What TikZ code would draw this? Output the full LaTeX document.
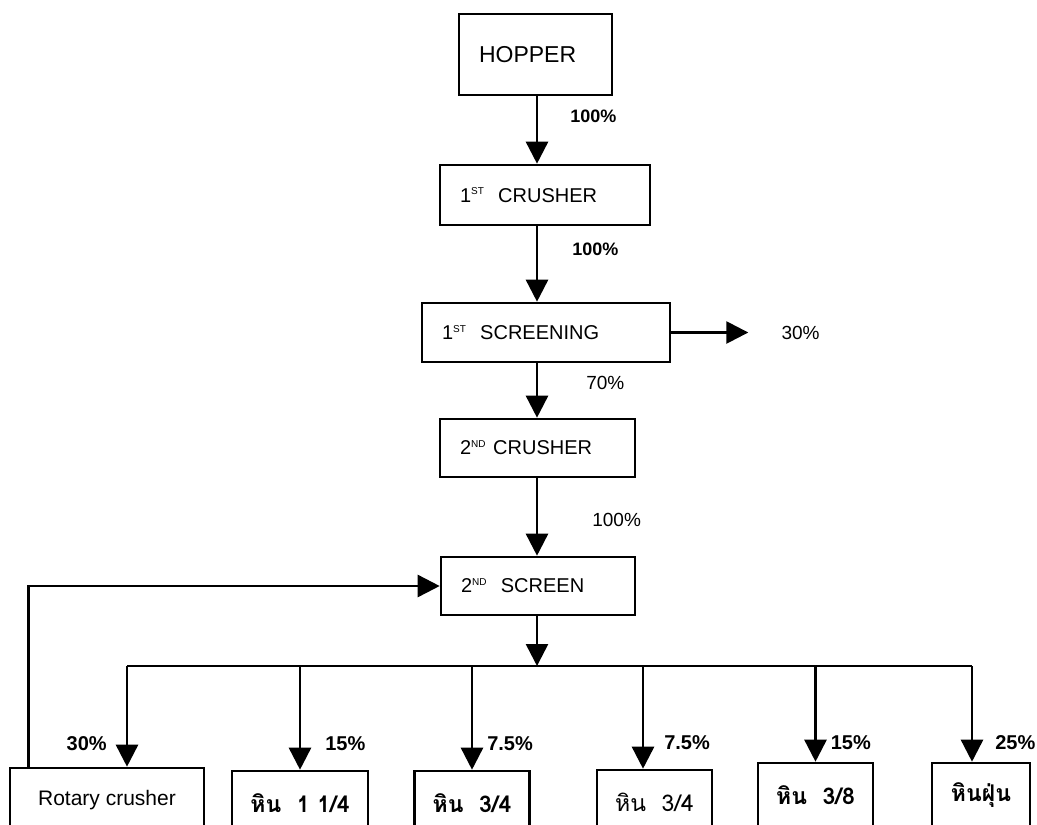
\documentclass[tikz,border=0pt]{standalone}
\usepackage{fontspec}
\setmainfont{Liberation Sans}
\newfontfamily\thaifont[Script=Thai]{Loma}
\usepackage{tikz}
\usetikzlibrary{positioning,arrows.meta}
\tikzset{
  unit/.style={rectangle, draw, line width=1.3pt, inner xsep=10pt, inner ysep=0pt,
               align=left, font=\fontsize{10}{12}\selectfont},
  prod/.style={rectangle, draw, line width=1.3pt, inner sep=0pt, minimum height=32pt,
               align=center, font=\fontsize{10.5}{12}\selectfont},
  flow/.style={-{Triangle[length=11pt,width=11pt]}, line width=1.3pt},
  bus/.style={line width=1.3pt},
  pct/.style={font=\bfseries\fontsize{10}{12}\selectfont, inner sep=1pt},
  pctm/.style={pct, font=\bfseries\fontsize{9}{11}\selectfont},
  pctl/.style={pct, font=\fontsize{9.5}{11}\selectfont},
}
\newcommand{\ordn}[2]{#1\textsuperscript{\tiny #2}}
\newcommand{\thaib}{\thaifont\fontsize{11.5}{13}\selectfont}

\begin{document}
\begin{tikzpicture}[x=0.5pt,y=-0.5pt]
  \useasboundingbox (0,0) rectangle (1037,824);

  % ===== main line ======================================================
  \node[unit, text width=56.5pt, minimum height=40.5pt,
        font=\fontsize{11.5}{14}\selectfont] (hop) at (535.5,54.5) {HOPPER};
  \node[unit, text width=85pt, minimum height=30pt] (cr1) at (545,195)
       {\ordn{1}{ST}\ \ CRUSHER};
  \node[unit, text width=104pt, minimum height=29.5pt] (scr1) at (546,332.5)
       {\ordn{1}{ST}\ \ SCREENING};
  \node[unit, text width=77.5pt, minimum height=29pt] (cr2) at (537.5,448)
       {\ordn{2}{ND} CRUSHER};
  \node[unit, text width=77pt, minimum height=29pt] (scr2) at (538,586)
       {\ordn{2}{ND}\ \ SCREEN};
  \coordinate (spine) at (537,0);

  % ===== products (bottom row) ==========================================
  \node[prod, minimum width=97pt] (rot) at (107,800) {Rotary crusher};
  \node[prod, minimum width=68pt] (h1) at (300,803) {\thaib\bfseries หิน\ \ 1 1/4};
  \node[prod, minimum width=57.5pt] (h2) at (472,803) {\thaib\bfseries หิน\ \ 3/4};
  \node[prod, minimum width=57.5pt] (h3) at (654.5,802) {\thaib หิน\ \ 3/4};
  \node[prod, minimum width=57.5pt] (h4) at (815.5,795) {\thaib\bfseries หิน\ \ 3/8};
  \node[prod, minimum width=49pt] (h5) at (981,795) {\thaib\bfseries หินฝุ่น};

  % ===== flows down the main line =======================================
  \draw[flow] (hop.south -| spine) -- node[pctm,pos=0.29,right=15pt]{100\%} (cr1.north -| spine);
  \draw[flow] (cr1.south -| spine) -- node[pctm,pos=0.3,right=16pt]{100\%} (scr1.north -| spine);
  \draw[flow] (scr1.south -| spine) -- node[pctl,pos=0.37,right=23pt]{70\%} (cr2.north -| spine);
  \draw[flow] (cr2.south -| spine) -- node[pctl,pos=0.54,right=26pt]{100\%} (scr2.north -| spine);
  % reject out of the first screen
  \coordinate[right=38.5pt of scr1.east] (rej);
  \draw[flow] (scr1.east) -- (rej) node[pctl,right=15pt]{30\%};

  % ===== split after the second screen ==================================
  \coordinate (bus) at (538,666);
  \coordinate (d0) at ([xshift=10pt]rot.north);
  \coordinate (d3) at ([xshift=-5.75pt]h3.north);
  \coordinate (d5) at ([xshift=-4.5pt]h5.north);
  \draw[flow] (scr2.south -| spine) -- (bus -| spine);
  \draw[bus] (bus -| d0) -- (bus -| d5);
  \draw[flow] (bus -| d0) -- node[pct,pos=0.77,left=8.5pt]{30\%} (d0);
  \draw[flow] (bus -| h1.north) -- node[pct,pos=0.75,right=11pt]{15\%} (h1.north);
  \draw[flow] (bus -| h2.north) -- node[pct,pos=0.75,right=6pt]{7.5\%} (h2.north);
  \draw[flow] (bus -| d3) -- node[pct,pos=0.75,right=9pt]{7.5\%} (d3);
  \draw[flow] (bus -| h4.north) -- node[pct,pos=0.8,right=6pt]{15\%} (h4.north);
  \draw[flow] (bus -| d5) -- node[pct,pos=0.8,right=10pt]{25\%} (d5);

  % recycle from the rotary crusher back to the screen
  \draw[flow] ([xshift=10pt]rot.north west) |- (scr2.west);

\end{tikzpicture}
\end{document}
